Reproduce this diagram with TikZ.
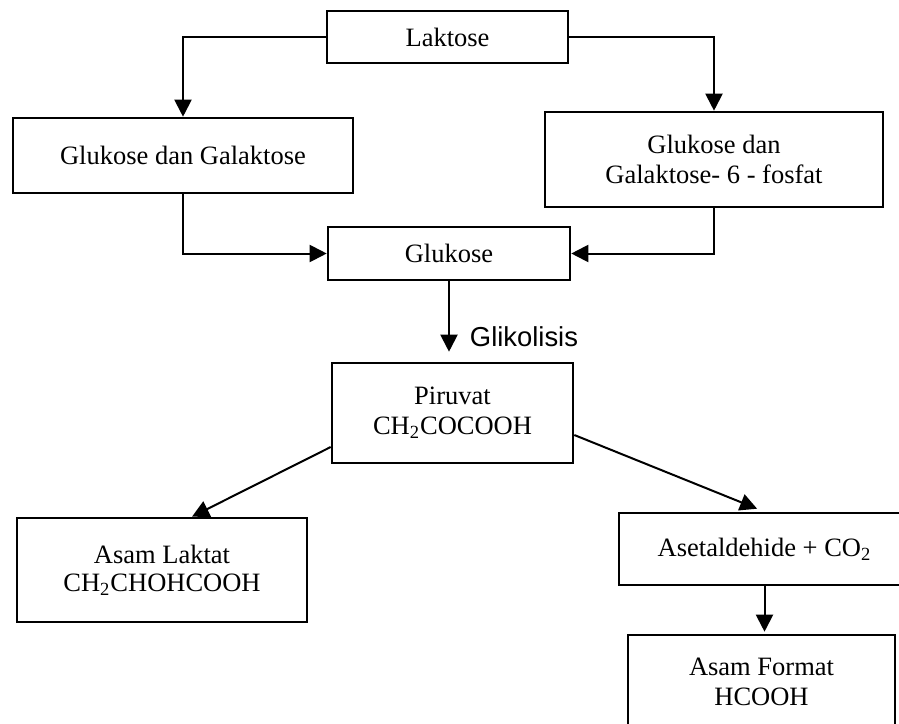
\documentclass[tikz,border=0pt]{standalone}
\usepackage{fontspec}
\setmainfont{Liberation Serif}
\newfontfamily\labelfont{Liberation Sans}
\usetikzlibrary{arrows.meta}

\tikzset{
  box/.style={draw, line width=1.3pt, align=center, inner sep=0pt,
    font=\fontsize{13.25}{15}\selectfont},
  flow/.style={line width=1pt, -{Triangle[length=8.5pt,width=8.5pt]}},
}

\begin{document}
\begin{tikzpicture}[x=0.5pt,y=-0.5pt]
        \useasboundingbox (0,0) rectangle (899,723);
        \clip (0,0) rectangle (899,723);
        \node[box, minimum width=120.5pt, minimum height=26pt] (lak) at (447.5,37) {Laktose};
        \node[box, minimum width=170pt, minimum height=37.5pt] (gg) at (183,155.5) {Glukose dan Galaktose};
        \node[box, minimum width=169pt, minimum height=47.5pt] (ggf) at (714,159.5) {Glukose dan\\Galaktose- 6 - fosfat};
        \node[box, minimum width=121pt, minimum height=26.5pt] (glu) at (449,253.5) {Glukose};
        \node[box, minimum width=120.5pt, minimum height=50pt] (pir) at (452.5,413) {Piruvat\\CH\textsubscript{2}COCOOH};
        \node[box, minimum width=145pt, minimum height=52pt] (lac) at (162,570) {Asam Laktat\\[-1pt]CH\textsubscript{2}CHOHCOOH};
        \node[box, minimum width=145.5pt, minimum height=36pt] (ase) at (764.5,549) {Asetaldehide + CO\textsubscript{2}};
        \node[box, minimum width=133.5pt, minimum height=47pt] (frm) at (761.5,682) {Asam Format\\HCOOH};
        \node[font=\labelfont\fontsize{13.7}{16}\selectfont] (glik) at (524,337) {Glikolisis};
        % lactose split
        \draw[flow] (lak.west) -| (gg.north);
        \draw[flow] (lak.east) -| (ggf.north);
        \draw[flow] (gg.south) |- (glu.west);
        \draw[flow] (ggf.south) |- (glu.east);
        % glycolysis and after
        \draw[flow, shorten >=5pt] (glu.south) -- (glu.south |- pir.north);
        \draw[flow] ([yshift=-17pt]pir.west) -- ([xshift=15pt]lac.north);
        \draw[flow, shorten >=4pt] ([yshift=-11pt]pir.east) -- (ase.north);
        \draw[flow, shorten >=1pt] (ase.south) -- (ase.south |- frm.north);
\end{tikzpicture}
\end{document}
